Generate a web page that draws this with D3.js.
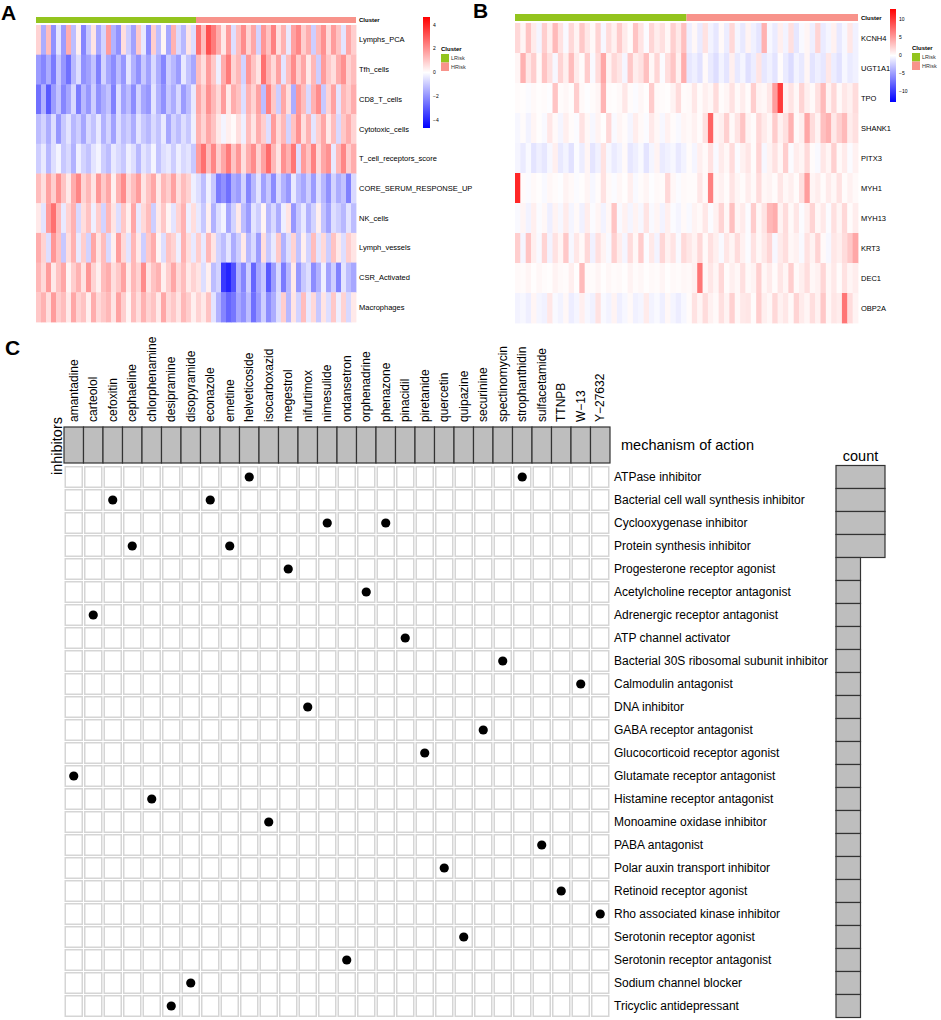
<!DOCTYPE html>
<html>
<head>
<meta charset="utf-8">
<script src="https://cdn.jsdelivr.net/npm/d3@7"></script>
<style>
  body { margin: 0; background: #fff; }
  svg { display: block; font-family: "Liberation Sans", Arial, Helvetica, sans-serif; }
</style>
</head>
<body>
<svg id="chart" width="941" height="1020"></svg>
<script>
// ---- data ----
const clusters = ["LRisk", "HRisk"];
const clusterColors = ["#93C41E", "#F8938B"];

// panel A: signature scores (z-scores), one array per row, LRisk then HRisk samples
const sigRows = ["Lymphs_PCA", "Tfh_cells", "CD8_T_cells", "Cytotoxic_cells", "T_cell_receptors_score",
  "CORE_SERUM_RESPONSE_UP", "NK_cells", "Lymph_vessels", "CSR_Activated", "Macrophages"];
const sigLRisk = [
  [0.8,-1.5,1.2,-2,-0.5,-1.8,1.5,-1.2,0.3,-2.2,-1,0.5,-1.6,-0.8,1.8,-1.4,-2,0.6,-0.9,-1.7,1,-0.4,-2.1,0.9,-1.2,0.2,-1.6,1.4,-0.7,-1.3,0.5,-0.6],
  [-1.8,-2.2,-1.5,-2.4,-1,-1.9,-2.6,-1.3,-0.6,-2,-1.7,-1.1,-2.3,-0.8,-1.6,-2.1,-1.2,-1.9,-0.5,-1.4,-2,-1,-1.7,-0.7,-1.5,-2.2,-0.9,-1.3,-1.8,-0.4,-1.1,-1.6],
  [-2.6,-1.4,-3,-1.8,-1.1,-2.2,-1.6,-0.7,-2.4,-1.3,-1.9,-0.9,-2,-1.5,-1.1,-2.3,-0.6,-1.7,-1.2,-2.1,-0.8,-1.6,-1.9,-0.5,-1.4,-2,-1,-1.5,-0.7,-1.8,-1.2,-0.4],
  [-1.2,-0.8,-1.5,-0.6,-1.9,-1,-0.5,-1.3,-0.9,-1.6,-0.7,-1.1,-0.4,-1.4,-0.8,-1.7,-0.6,-1.2,-0.9,-1.5,-0.5,-1,-1.3,-0.7,-1.1,-0.4,-1.6,-0.8,-1.2,-0.6,-1,-0.3],
  [-0.9,-0.4,-1.3,-0.6,-0.2,-1,-0.7,-1.4,-0.3,-0.8,-1.1,-0.5,-0.2,-0.9,-1.2,-0.4,-0.7,-1,-0.3,-0.6,-1.3,-0.5,-0.8,-0.2,-1.1,-0.6,-0.4,-0.9,-0.3,-0.7,-0.5,-1],
  [1.2,0.6,1.7,0.9,2,1.1,0.4,1.5,2.2,0.8,1.3,0.5,1.9,1,1.6,0.3,1.4,2.1,0.7,1.2,1.8,0.5,1.1,1.6,0.4,1.3,0.9,1.7,0.6,1.2,0.8,-0.3],
  [0.4,-0.5,1.8,2.6,1.2,-0.4,0.8,1.4,-0.7,0.6,1.1,-0.3,0.9,-0.8,1.3,0.5,-0.6,1,0.3,1.6,-0.4,0.7,1.2,-0.9,0.4,1,0.2,-0.5,0.8,1.4,-0.3,0.6],
  [1.5,0.8,-0.6,1.9,1.1,-1,0.6,1.4,-0.4,0.9,-0.8,1.6,0.5,1.2,-0.7,0.3,1.8,0.7,-0.5,1.3,0.4,-0.9,1,1.5,0.2,-0.6,1.1,0.8,-0.3,1.4,0.6,-0.4],
  [1.3,0.7,1.8,0.4,1.1,1.6,0.2,0.9,1.4,0.5,1.9,0.8,0.3,1.2,1.5,0.6,1,1.7,0.4,1.3,0.8,2.1,0.5,1.1,1.4,0.3,0.9,1.6,0.7,1.2,0.4,0.8],
  [1,1.4,0.6,1.8,0.9,1.2,0.4,1.6,0.8,1.1,0.3,1.5,0.7,1,1.3,0.5,1.7,0.9,0.2,1.2,0.6,1.4,0.8,1.1,0.4,1.6,0.7,1,0.5,1.3,0.9,0.3]
];
const sigHRisk = [
  [2.6,1.2,3.2,2.4,1.5,0.4,1.8,-0.6,1.2,2.1,0.8,1.6,-0.8,1.9,1.1,2.3,0.6,1.4,-0.4,1.7,2.2,0.9,1.5,-0.9,1.3,2,0.7,1.8,1.1,-0.5,1.6,0.9],
  [1.2,0.6,1.8,1,-0.3,1.5,2.4,0.8,1.3,-0.8,1.9,1.1,0.5,2.6,1.4,0.7,1.7,-0.5,1.2,2.1,0.9,1.6,0.4,1.3,-0.9,1.8,1,0.6,1.5,2,0.8,1.2],
  [1.6,0.9,2,1.3,0.7,1.8,0.4,1.5,1.1,-0.6,1.4,0.8,1.7,-1.2,2.3,1,-0.9,1.6,0.6,-1.5,1.9,1.2,-0.7,1.4,2.1,-1,0.8,1.7,-0.5,1.3,0.9,1.5],
  [1.4,0.8,1.6,1.1,0.4,-0.2,0.3,0.1,0.6,-0.3,1.2,0.5,1.5,0.9,-0.6,1.8,0.7,1.3,-0.8,1.1,2,0.6,1.4,-0.5,0.9,1.6,0.4,1.2,-0.7,1,1.5,0.8],
  [1.8,2.6,1.2,2.2,0.9,1.6,2.4,1.1,1.9,0.6,1.5,2.1,0.8,1.7,2.7,1.3,0.5,2,1.4,2.5,-0.6,1.8,1.1,2.3,0.7,1.6,2,-0.4,1.3,2.2,0.9,1.5],
  [-0.6,-1.2,-0.3,-1,-2.4,-2,-2.6,-1.5,-1.8,-0.8,-2.2,-1.3,-0.5,-1.7,-1,-2.1,-0.7,-1.4,-1.9,-0.4,-1.2,-1.6,-0.9,-1.8,-0.6,-1.3,-2,-0.8,-1.5,-1.1,-2.3,-0.7],
  [-0.4,-1,0.3,-1.4,-0.6,-0.2,-1.6,-0.8,0.4,-1.2,-1.8,-0.5,-0.9,0.2,-1.3,-0.7,-1.5,-0.3,0.5,-1.9,-1,-0.4,-1.4,-0.8,0.3,-1.1,-1.7,-0.6,-0.9,-1.3,-0.5,-1.2],
  [0.9,-0.4,1.3,0.5,-0.8,-1.2,-0.5,-1.5,-0.9,0.4,-1.3,-0.7,-1.8,0.6,-1,-0.4,1,-1.4,-0.6,0.8,-1.1,0.3,-0.8,1.2,-0.5,0.7,-0.9,1.1,0.4,-0.6,0.9,0.5],
  [0.5,-0.6,0.3,-1.2,-0.8,-3.6,-4,-3.2,-1.4,-2.2,-0.9,-2.8,-1.6,-1,-3,-1.8,-0.7,-2.4,-1.3,0.4,-1.9,-1,-0.6,-2.1,-1.4,-0.3,-1.7,-0.9,-2.3,-0.5,-1.2,-1.6],
  [0.8,0.4,1.1,-0.5,-1.4,-2.2,-2.8,-2.5,-1.6,-2,-1.2,-2.6,-1.8,-0.9,-2.1,-1.5,-0.6,0.9,-1.3,0.5,-0.8,1.2,-0.4,0.7,-1,0.5,-0.6,1,-0.3,0.8,-0.7,0.4]
];
const sigTicks = [4, 2, 0, -2, -4];

// panel B: gene expression, one array per row, LRisk then HRisk samples
const geneRows = ["KCNH4", "UGT1A1", "TPO", "SHANK1", "PITX3", "MYH1", "MYH13", "KRT3", "DEC1", "OBP2A"];
const geneLRisk = [
  [2,0.5,3,1,-0.5,2.5,0.8,3.5,1.5,-0.3,2,0.6,2.8,1.2,0.3,2.2,-0.4,1.8,0.7,2.6,1,0.2,3,1.4,-0.2,2.1,0.9,1.6,0.4,2.4,1.1,3.2],
  [0.5,4,1.2,2.5,0.3,3,1.6,-0.4,2.2,0.8,3.4,1,0.2,2.6,-0.3,1.8,4.5,0.6,2,1.3,-0.5,2.8,0.9,1.5,3.2,0.4,2.1,-0.2,1.7,2.9,0.7,4.2],
  [0.2,0.1,-0.2,0.3,0.1,0.2,-0.1,3,0.2,0.4,0.1,2.5,0.3,-0.1,0.2,0.5,3.8,0.2,0.1,0.3,1.2,0.2,-0.2,0.4,0.1,2.6,0.3,0.2,0.1,0.6,1.8,0.2],
  [-0.4,0.2,-0.6,0.5,0.1,-0.3,1.2,0.3,-0.5,0.8,0.2,-0.2,1.5,0.4,-0.4,0.6,0.1,2,-0.3,0.5,0.2,-0.5,0.9,0.3,-0.2,1.1,0.4,-0.4,0.7,0.2,-0.3,0.5],
  [-0.5,-1,-0.3,-1.4,-0.8,-1.2,-0.4,0.8,-1.1,-0.6,-1.5,-0.2,-0.9,0.5,-1.3,-0.7,1.5,-0.4,-1,-0.6,0.3,-1.2,-0.8,-0.3,-1.4,-0.5,0.6,-1,-0.7,-0.4,-1.1,-0.6],
  [11,0.2,-0.2,0.3,0.1,-0.3,0.4,0.2,-0.1,0.6,0.3,-0.2,0.1,0.5,-0.4,0.2,1.5,0.3,-0.2,0.4,0.1,0.8,-0.3,0.2,0.5,-0.1,0.3,0.2,2,0.4,-0.2,0.3],
  [-0.3,0.5,-0.6,0.8,-0.2,0.4,-0.8,0.6,-0.4,1,-0.5,0.3,-0.7,0.9,-0.2,0.5,-0.6,0.4,3,-0.3,0.7,-0.5,0.6,-0.4,1.4,-0.3,0.5,-0.6,0.8,-0.2,-0.5,0.3],
  [2.5,-0.5,3,0.8,-0.3,2.2,-0.6,1.5,0.5,2.8,-0.4,1.2,0.3,2,-0.7,1.6,0.6,-0.3,2.4,0.9,-0.5,1.8,0.4,2.6,-0.2,1.1,-0.6,2.1,0.7,1.4,-0.3,1.9],
  [0.3,0.2,0.5,0.1,0.4,0.2,0.1,0.6,0.3,0.2,0.8,0.1,3.5,0.3,0.2,0.5,0.1,0.4,0.2,0.3,0.1,0.6,0.2,0.4,0.1,0.3,0.2,0.5,0.1,0.3,0.2,0.4],
  [-0.6,-0.4,-0.8,0.5,-0.5,-0.7,1.2,-0.3,-0.6,0.4,-0.9,-0.5,0.8,-0.4,-0.7,1.5,-0.3,-0.6,0.6,-0.8,-0.4,0.3,-0.7,-0.5,1,-0.6,-0.3,-0.8,0.4,-0.5,-0.9,-0.4]
];
const geneHRisk = [
  [-0.8,0.4,-1,1.5,-0.6,-1.2,0.3,-0.9,2,-0.5,-1.1,0.6,-0.7,-1.3,4,-0.4,-1,0.8,-0.6,1.6,-1.2,-0.3,0.5,-0.8,2.2,-1,-0.5,0.7,-1.1,-0.4,1.2,-0.7],
  [-1.2,-0.8,-1.5,0.3,-1,-1.7,-0.6,-1.3,0.8,-1.1,-0.5,-1.6,-0.9,1.4,-1.2,-0.7,-1.4,0.2,-1,-1.8,-0.6,-1.1,0.5,-1.4,-0.8,-1.2,1.2,-0.9,-1.5,-0.4,-1,-0.7],
  [0.3,1.2,0.2,0.8,0.4,1.8,0.2,0.5,1.5,0.3,0.9,0.2,2.5,0.6,0.4,1.2,5,10,0.6,1.4,0.4,2.2,0.8,0.3,1.6,3.5,0.6,2,0.3,1.2,0.7,1.8],
  [0.3,0.7,0.2,1.6,8,0.5,0.8,2.4,0.3,1.4,3,0.6,0.2,2,1,0.4,2.6,0.7,1.6,4,0.3,0.8,4.5,1.8,0.6,3.2,4,1.1,2.4,3.5,0.9,1.6],
  [0.2,-0.5,0.8,0.3,1.5,-0.3,1,0.4,1.8,-0.2,0.7,1.3,0.2,2.2,-0.4,0.6,1.5,0.4,2.5,-0.2,0.9,0.5,1.9,0.2,-0.3,1.2,0.5,2.4,0.3,1,-0.2,0.7],
  [0.2,0.2,1.2,0.3,6.5,0.4,0.7,0.2,1.4,0.5,0.2,0.9,0.3,1.8,0.4,0.6,0.2,1.3,0.4,0.8,0.2,1.6,5,0.5,0.9,0.2,1,0.4,1.5,0.2,0.7,0.3],
  [-0.3,0.6,0.3,1.2,-0.2,0.7,2.2,0.4,3.2,0.5,1,-0.2,2.6,0.4,1.4,3.6,4.2,0.6,1.8,0.3,1.3,-0.2,0.8,2.2,0.4,1.1,-0.2,1.6,0.5,2,0.2,0.9],
  [1.2,0.6,2,0.3,1.6,0.8,-0.3,1.3,0.5,1.8,0.7,-0.2,1.5,0.4,1.1,2.1,-0.4,1,1.7,0.4,0.7,-0.3,1.5,0.6,2.2,0.3,-0.4,1.2,0.8,1.8,2.8,4.5],
  [0.3,0.7,7,0.4,1.2,0.5,2,0.2,0.8,0.4,1.6,0.3,0.6,2.4,0.4,1,0.2,1.3,0.5,2.5,0.3,0.8,1.7,0.4,0.7,2.1,0.4,1.1,0.2,1.5,0.5,0.9],
  [0.2,1.5,0.5,1.8,0.7,0.3,1.6,0.6,2.4,0.4,1.1,1.3,0.2,2.5,0.8,0.4,2,0.7,1.2,0.3,2.2,1,0.5,1.7,0.7,2.8,0.4,1.3,0.9,7,1.8,0.6]
];
const geneTicks = [10, 5, 0, -5, -10];

// panel C: drugs and their mechanism of action
const drugs = ["amantadine", "carteolol", "cefoxitin", "cephaeline", "chlorphenamine", "desipramine",
  "disopyramide", "econazole", "emetine", "helveticoside", "isocarboxazid", "megestrol", "nifurtimox",
  "nimesulide", "ondansetron", "orphenadrine", "phenazone", "pinacidil", "piretanide", "quercetin",
  "quipazine", "securinine", "spectinomycin", "strophanthidin", "sulfacetamide", "TTNPB", "W\u221213", "Y\u221227632"];
const moaRows = ["ATPase inhibitor", "Bacterial cell wall synthesis inhibitor", "Cyclooxygenase inhibitor",
  "Protein synthesis inhibitor", "Progesterone receptor agonist", "Acetylcholine receptor antagonist",
  "Adrenergic receptor antagonist", "ATP channel activator", "Bacterial 30S ribosomal subunit inhibitor",
  "Calmodulin antagonist", "DNA inhibitor", "GABA receptor antagonist", "Glucocorticoid receptor agonist",
  "Glutamate receptor antagonist", "Histamine receptor antagonist", "Monoamine oxidase inhibitor",
  "PABA antagonist", "Polar auxin transport inhibitor", "Retinoid receptor agonist",
  "Rho associated kinase inhibitor", "Serotonin receptor agonist", "Serotonin receptor antagonist",
  "Sodium channel blocker", "Tricyclic antidepressant"];
const moaDrugs = [
  ["helveticoside", "strophanthidin"], ["cefoxitin", "econazole"], ["nimesulide", "phenazone"],
  ["cephaeline", "emetine"], ["megestrol"], ["orphenadrine"], ["carteolol"], ["pinacidil"],
  ["spectinomycin"], ["W\u221213"], ["nifurtimox"], ["securinine"], ["piretanide"], ["amantadine"],
  ["chlorphenamine"], ["isocarboxazid"], ["sulfacetamide"], ["quercetin"], ["TTNPB"], ["Y\u221227632"],
  ["quipazine"], ["ondansetron"], ["disopyramide"], ["desipramine"]
];

// ---- drawing ----
const svg = d3.select("#chart");
const defs = svg.append("defs");

function panelLetter(letter, x, y) {
  svg.append("text").attr("x", x).attr("y", y)
    .attr("font-size", 21).attr("font-weight", "bold").text(letter);
}

function drawHeatmap(cfg) {
  const g = svg.append("g");
  const n = cfg.low[0].length + cfg.high[0].length;
  const x = d3.scaleBand().domain(d3.range(n)).range([cfg.x0, cfg.x1]);
  const y = d3.scaleBand().domain(cfg.rows).range([cfg.y0, cfg.y1]);
  const color = d3.scaleLinear()
    .domain([-cfg.max, 0, cfg.max])
    .range(["#0000FF", "#FFFFFF", "#FF0000"])
    .interpolate(d3.interpolateRgb)
    .clamp(true);

  const cells = [];
  cfg.rows.forEach((r, i) => {
    cfg.low[i].concat(cfg.high[i]).forEach((v, j) => cells.push({ row: r, col: j, v }));
  });

  g.selectAll("rect.cell")
    .data(cells)
    .enter()
    .append("rect")
    .attr("class", "cell")
    .attr("x", d => x(d.col))
    .attr("y", d => y(d.row))
    .attr("width", x.bandwidth() + 0.4)
    .attr("height", y.bandwidth() + 0.4)
    .attr("fill", d => color(d.v));

  // cluster annotation bar
  const nLow = cfg.low[0].length;
  const spans = [[0, nLow], [nLow, n]];
  g.selectAll("rect.anno")
    .data(clusters)
    .enter()
    .append("rect")
    .attr("x", (d, i) => x(spans[i][0]))
    .attr("y", cfg.barY0)
    .attr("width", (d, i) => x.step() * (spans[i][1] - spans[i][0]))
    .attr("height", cfg.barY1 - cfg.barY0)
    .attr("fill", (d, i) => clusterColors[i]);

  g.append("text")
    .attr("x", cfg.x1 + 3).attr("y", (cfg.barY0 + cfg.barY1) / 2)
    .attr("dy", "0.35em").attr("font-size", 6).attr("font-weight", "bold")
    .text("Cluster");

  g.selectAll("text.rowlab")
    .data(cfg.rows)
    .enter()
    .append("text")
    .attr("x", cfg.x1 + 3)
    .attr("y", d => y(d) + y.bandwidth() / 2)
    .attr("dy", "0.35em")
    .attr("font-size", 7.5)
    .text(d => d);

  // colour legend
  const gradId = "grad-" + cfg.id;
  const grad = defs.append("linearGradient").attr("id", gradId)
    .attr("x1", 0).attr("y1", 0).attr("x2", 0).attr("y2", 1);
  d3.range(0, 1.0001, 0.05).forEach(t => {
    grad.append("stop").attr("offset", t).attr("stop-color", color(cfg.max - t * 2 * cfg.max));
  });
  const ly = d3.scaleLinear().domain([cfg.max, -cfg.max]).range([cfg.legY0, cfg.legY1]);
  g.append("rect")
    .attr("x", cfg.legX).attr("y", cfg.legY0)
    .attr("width", cfg.legW).attr("height", cfg.legY1 - cfg.legY0)
    .attr("fill", `url(#${gradId})`);
  g.selectAll("text.tick")
    .data(cfg.ticks)
    .enter()
    .append("text")
    .attr("x", cfg.legX + cfg.legW + 3)
    .attr("y", d => ly(d))
    .attr("dy", "0.35em")
    .attr("font-size", 5)
    .text(d => d < 0 ? "\u2212" + Math.abs(d) : d);

  // cluster legend
  g.append("text")
    .attr("x", cfg.clX).attr("y", cfg.clY)
    .attr("font-size", 6).attr("font-weight", "bold")
    .text("Cluster");
  const item = g.selectAll("g.cl")
    .data(clusters)
    .enter()
    .append("g")
    .attr("transform", (d, i) => `translate(${cfg.clX},${cfg.clY + 3 + i * 8.5})`);
  item.append("rect").attr("width", 8).attr("height", 8.5).attr("fill", (d, i) => clusterColors[i]);
  item.append("text").attr("x", 10).attr("y", 4.3).attr("dy", "0.35em")
    .attr("font-size", 5.5).attr("fill", "#333").text(d => d);
}

panelLetter("A", 1, 20);
drawHeatmap({
  id: "a", rows: sigRows, low: sigLRisk, high: sigHRisk, max: 4.65, ticks: sigTicks,
  x0: 36, x1: 356, y0: 25, y1: 322, barY0: 17, barY1: 23,
  legX: 423, legW: 7, legY0: 17, legY1: 128, clX: 441, clY: 51
});

panelLetter("B", 473, 18);
drawHeatmap({
  id: "b", rows: geneRows, low: geneLRisk, high: geneHRisk, max: 13, ticks: geneTicks,
  x0: 515, x1: 858, y0: 23, y1: 323, barY0: 14, barY1: 21,
  legX: 890, legW: 6, legY0: 9, legY1: 102, clX: 912, clY: 50
});

// panel C
panelLetter("C", 5, 355);

const gx = d3.scaleBand().domain(drugs).range([64, 610]);
const gy = d3.scaleBand().domain(moaRows).range([465.5, 1017.5]);
const headerY0 = 427, headerY1 = 463;
const c = svg.append("g");

c.selectAll("rect.head")
  .data(drugs)
  .enter()
  .append("rect")
  .attr("x", d => gx(d))
  .attr("y", headerY0)
  .attr("width", gx.bandwidth())
  .attr("height", headerY1 - headerY0)
  .attr("fill", "#BEBEBE")
  .attr("stroke", "#333")
  .attr("stroke-width", 1.2);

c.selectAll("text.drug")
  .data(drugs)
  .enter()
  .append("text")
  .attr("transform", d => `translate(${gx(d) + gx.bandwidth() / 2},${headerY0 - 5}) rotate(-90)`)
  .attr("dy", "0.35em")
  .attr("font-size", 12)
  .text(d => d);

c.append("text")
  .attr("transform", `translate(57,${(headerY0 + headerY1) / 2 + 1}) rotate(-90)`)
  .attr("text-anchor", "middle")
  .attr("dy", "0.35em")
  .attr("font-size", 14.5)
  .text("inhibitors");

c.append("text")
  .attr("x", 621).attr("y", 450)
  .attr("font-size", 14.5)
  .text("mechanism of action");

const gridCells = [];
moaRows.forEach(r => drugs.forEach(d => gridCells.push({ row: r, drug: d })));
c.selectAll("rect.cell")
  .data(gridCells)
  .enter()
  .append("rect")
  .attr("x", d => gx(d.drug) + 1.25)
  .attr("y", d => gy(d.row) + 1.25)
  .attr("width", gx.bandwidth() - 2.5)
  .attr("height", gy.bandwidth() - 2.5)
  .attr("fill", "#fff")
  .attr("stroke", "#D5D5D5")
  .attr("stroke-width", 1.5);

const dots = [];
moaRows.forEach((r, i) => moaDrugs[i].forEach(d => dots.push({ row: r, drug: d })));
c.selectAll("circle.dot")
  .data(dots)
  .enter()
  .append("circle")
  .attr("cx", d => gx(d.drug) + gx.bandwidth() / 2)
  .attr("cy", d => gy(d.row) + gy.bandwidth() / 2)
  .attr("r", 4.6)
  .attr("fill", "#000");

c.selectAll("text.moa")
  .data(moaRows)
  .enter()
  .append("text")
  .attr("x", 614)
  .attr("y", d => gy(d) + gy.bandwidth() / 2)
  .attr("dy", "0.35em")
  .attr("font-size", 12)
  .text(d => d);

// count bars
const counts = moaDrugs.map(d => d.length);
const cx = d3.scaleLinear().domain([0, d3.max(counts)]).range([836, 885]);
c.selectAll("rect.count")
  .data(moaRows)
  .enter()
  .append("rect")
  .attr("x", cx(0))
  .attr("y", d => gy(d))
  .attr("width", (d, i) => cx(counts[i]) - cx(0))
  .attr("height", gy.bandwidth())
  .attr("fill", "#BEBEBE")
  .attr("stroke", "#333")
  .attr("stroke-width", 1.2);

c.append("text")
  .attr("x", (cx(0) + cx(d3.max(counts))) / 2)
  .attr("y", 461)
  .attr("text-anchor", "middle")
  .attr("font-size", 14.5)
  .text("count");
</script>
</body>
</html>
